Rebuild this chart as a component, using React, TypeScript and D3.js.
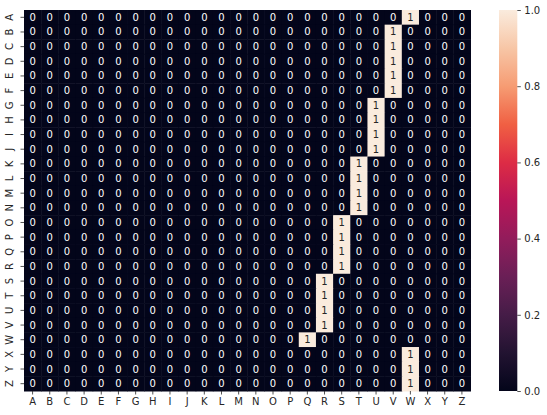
import { useEffect, useRef } from "react";
import * as d3 from "d3";

// row / column labels
const letters = "ABCDEFGHIJKLMNOPQRSTUVWXYZ".split("");

// for each row (A..Z), the column that holds the 1; every other cell is 0
const oneColumn = [
  "W", "V", "V", "V", "V", "V", "U", "U", "U", "U", "T", "T", "T",
  "T", "S", "S", "S", "S", "R", "R", "R", "R", "Q", "W", "W", "W",
];

const colorbarTicks = [0, 0.2, 0.4, 0.6, 0.8, 1.0];

// approximate seaborn "rocket" colormap
const rocketStops = [
  "#03051a", "#221331", "#451c47", "#6a1f56", "#921c5b", "#b91657",
  "#dd2c45", "#f06043", "#f69c73", "#f7c6a6", "#faebdd",
];

function App() {
  const ref = useRef<SVGSVGElement>(null);

  useEffect(() => {
    const svg = d3.select(ref.current);
    svg.selectAll("*").remove();

    const W = 547, H = 415;
    const margin = { top: 10, left: 24, right: 470.5, bottom: 391 };
    const font = "DejaVu Sans, sans-serif";
    const textColor = "#262626";

    svg.attr("width", W).attr("height", H);

    const color = d3.scaleLinear<string>()
      .domain(d3.range(rocketStops.length).map(i => i / (rocketStops.length - 1)))
      .range(rocketStops)
      .interpolate(d3.interpolateRgb);

    const x = d3.scaleBand().domain(letters).range([margin.left, margin.right]);
    const y = d3.scaleBand().domain(letters).range([margin.top, margin.bottom]);

    const cells = letters.flatMap((row, i) =>
      letters.map(col => ({ row, col, value: col === oneColumn[i] ? 1 : 0 }))
    );

    const g = svg.append("g");

    g.selectAll("rect.cell")
      .data(cells)
      .enter()
      .append("rect")
      .attr("class", "cell")
      .attr("x", d => x(d.col)!)
      .attr("y", d => y(d.row)!)
      .attr("width", x.bandwidth() + 0.5)
      .attr("height", y.bandwidth() + 0.5)
      .attr("fill", d => color(d.value));

    g.selectAll("text.annot")
      .data(cells)
      .enter()
      .append("text")
      .attr("class", "annot")
      .attr("x", d => x(d.col)! + x.bandwidth() / 2)
      .attr("y", d => y(d.row)! + y.bandwidth() / 2)
      .attr("text-anchor", "middle")
      .attr("dominant-baseline", "central")
      .style("font-family", font)
      .style("font-size", "10px")
      .attr("fill", d => (d.value > 0.5 ? textColor : "#ffffff"))
      .text(d => d.value);

    // x axis
    const xAxis = svg.append("g")
      .attr("transform", `translate(0, ${margin.bottom})`)
      .call(d3.axisBottom(x).tickSize(3.5).tickPadding(3.5));
    xAxis.select(".domain").remove();
    xAxis.selectAll("line").attr("stroke", textColor).attr("stroke-width", 0.8);
    xAxis.selectAll("text")
      .style("font-family", font)
      .style("font-size", "10px")
      .attr("fill", textColor);

    // y axis with vertical labels
    const yAxis = svg.append("g")
      .attr("transform", `translate(${margin.left}, 0)`)
      .call(d3.axisLeft(y).tickSize(3.5).tickPadding(3.5));
    yAxis.select(".domain").remove();
    yAxis.selectAll("line").attr("stroke", textColor).attr("stroke-width", 0.8);
    yAxis.selectAll("text")
      .style("font-family", font)
      .style("font-size", "10px")
      .attr("fill", textColor)
      .attr("x", null)
      .attr("dy", null)
      .attr("text-anchor", "middle")
      .attr("transform", "translate(-11, 0) rotate(-90)");

    // colorbar
    const cb = { x0: 499, x1: 517.3, top: 10, bottom: 391 };
    const defs = svg.append("defs");
    const grad = defs.append("linearGradient")
      .attr("id", "rocket")
      .attr("x1", 0).attr("y1", 1).attr("x2", 0).attr("y2", 0);
    d3.range(0, 1.0001, 0.05).forEach(t => {
      grad.append("stop").attr("offset", t).attr("stop-color", color(t));
    });
    svg.append("rect")
      .attr("x", cb.x0)
      .attr("y", cb.top)
      .attr("width", cb.x1 - cb.x0)
      .attr("height", cb.bottom - cb.top)
      .attr("fill", "url(#rocket)");

    const cbScale = d3.scaleLinear().domain([0, 1]).range([cb.bottom, cb.top]);
    const cbAxis = svg.append("g")
      .attr("transform", `translate(${cb.x1}, 0)`)
      .call(d3.axisRight(cbScale).tickValues(colorbarTicks).tickFormat(d3.format(".1f")).tickSize(3.5).tickPadding(3.5));
    cbAxis.select(".domain").remove();
    cbAxis.selectAll("line").attr("stroke", textColor).attr("stroke-width", 0.8);
    cbAxis.selectAll("text")
      .style("font-family", font)
      .style("font-size", "10px")
      .attr("fill", textColor);
  }, []);

  return (
    <svg ref={ref} style={{ position: "absolute", left: 0, top: 0, background: "#fff" }} />
  );
}

export default App;
